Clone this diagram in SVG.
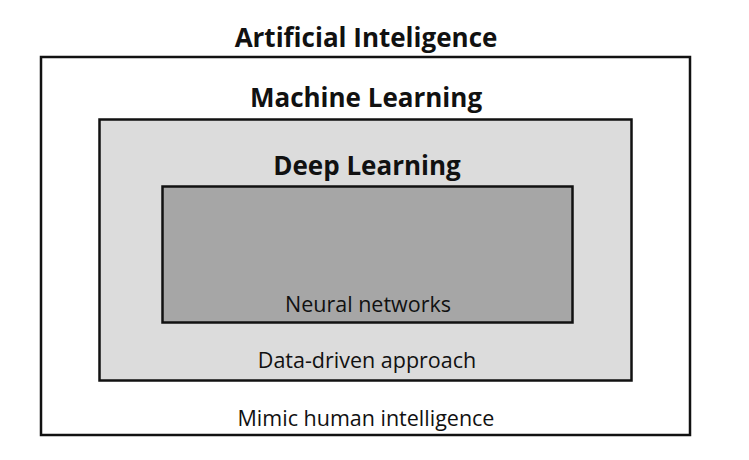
<svg xmlns="http://www.w3.org/2000/svg" width="749" height="460" viewBox="0 0 749 460">
<style>
.box{stroke:#111;stroke-width:2.5}
.t{font-family:"Open Sans","Noto Sans",sans-serif;font-weight:700;font-size:26px;fill:#111;text-anchor:middle}
.l{font-family:"Open Sans","Noto Sans",sans-serif;font-size:21.5px;fill:#111;text-anchor:middle}
</style>
<rect width="749" height="460" fill="#fff"/>
<g id="ai">
<rect class="box" x="41" y="57" width="649" height="378" fill="#fff"/>
<text class="t" x="366" y="47">Artificial Inteligence</text>
<text class="l" x="366" y="426">Mimic human intelligence</text>
</g>
<g id="ml">
<rect class="box" x="99.5" y="119.5" width="532" height="261" fill="#dcdcdc"/>
<text class="t" x="366" y="107">Machine Learning</text>
<text class="l" x="367" y="368">Data-driven approach</text>
</g>
<g id="dl">
<rect class="box" x="162.5" y="186.5" width="410" height="136" fill="#a6a6a6"/>
<text class="t" x="367" y="175">Deep Learning</text>
<text class="l" x="368" y="312">Neural networks</text>
</g>
<g id="connectors"/>
</svg>
